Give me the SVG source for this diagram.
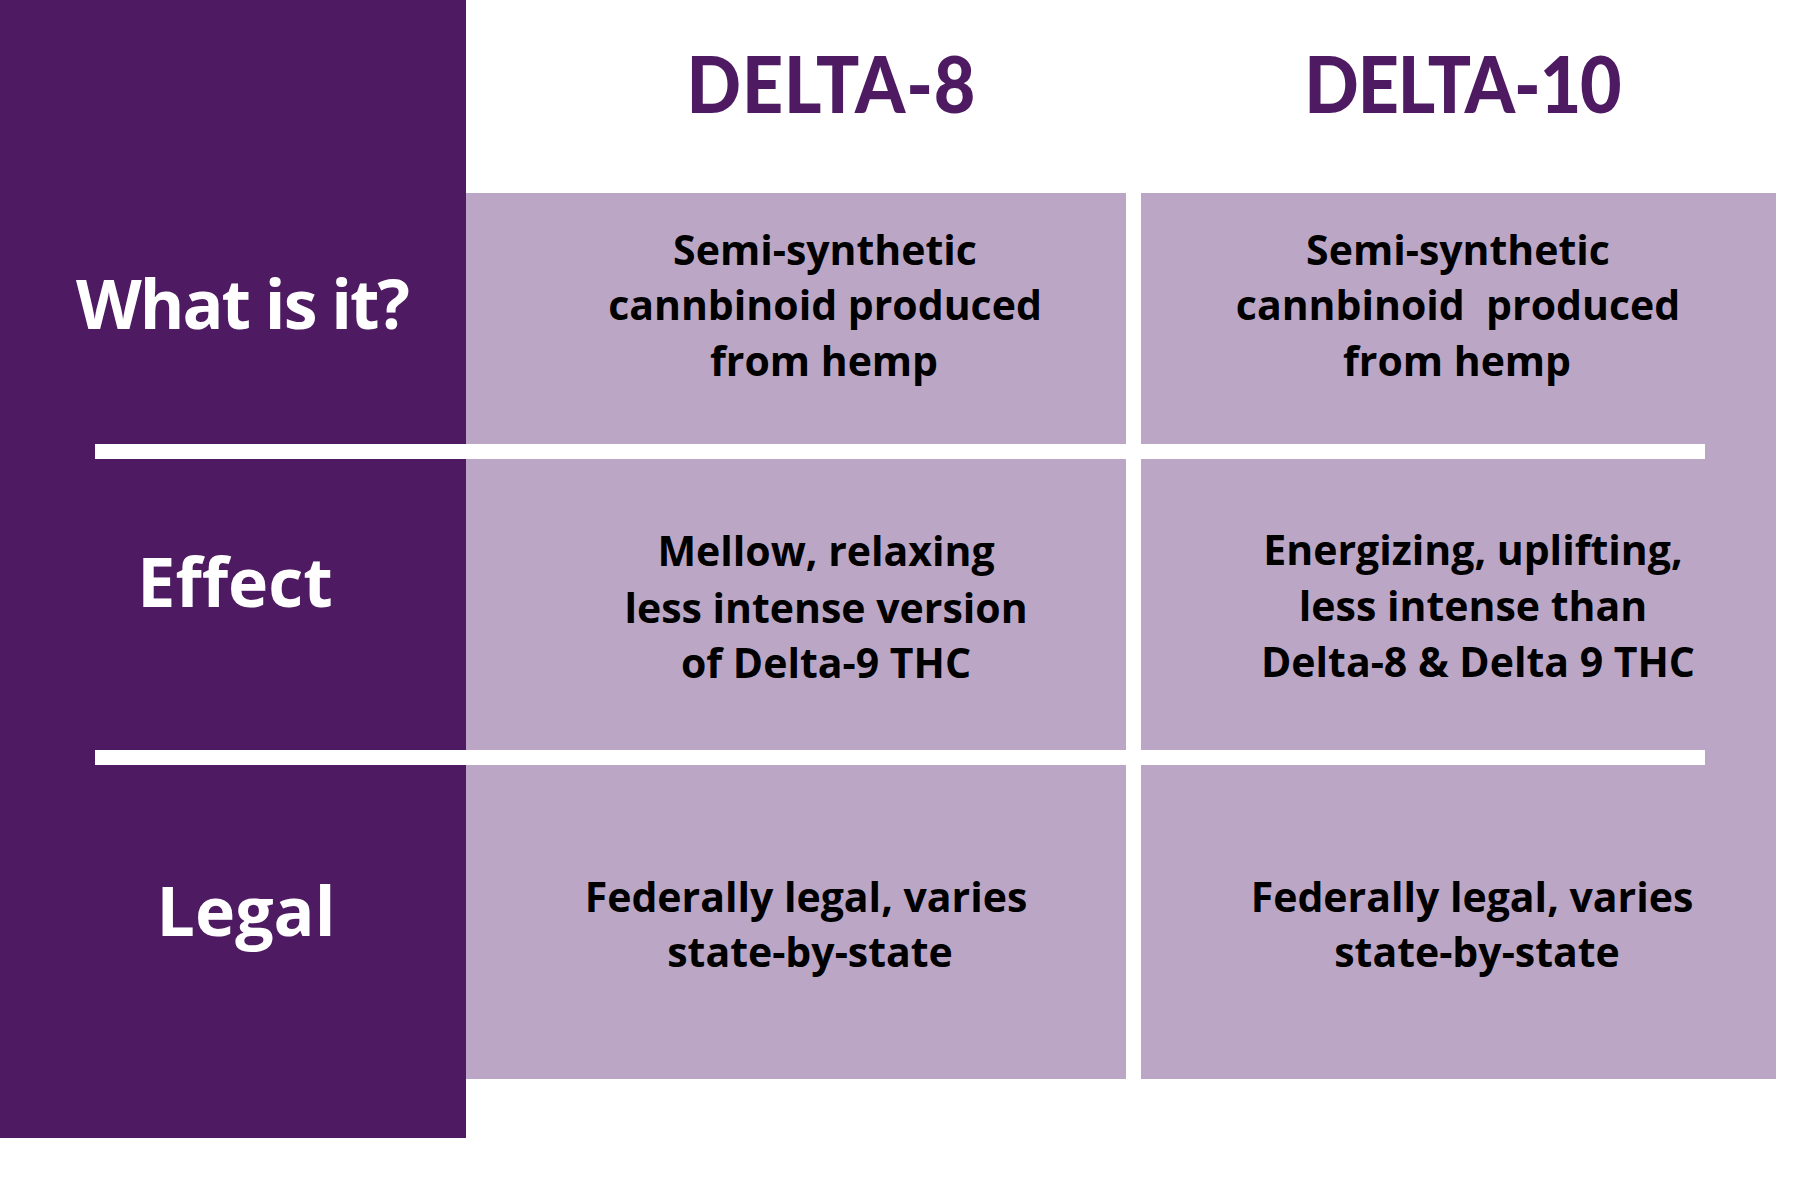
<svg xmlns="http://www.w3.org/2000/svg" width="1800" height="1200" viewBox="0 0 1800 1200">
<style>
.bg{fill:#ffffff}
.side{fill:#4e1a61}
.cell{fill:#bba7c5}
.rule{fill:#ffffff}
.head{font-family:"Lato","Inter","DejaVu Sans",sans-serif;font-weight:900;font-size:78px;fill:#4e1a61;text-anchor:middle}
.label{font-family:"Open Sans","Noto Sans","DejaVu Sans",sans-serif;font-weight:700;font-size:68px;fill:#ffffff;text-anchor:middle}
.txt{font-family:"Open Sans","Noto Sans","DejaVu Sans",sans-serif;font-weight:700;font-size:41px;fill:#000000;text-anchor:middle}
</style>
<rect class="bg" x="0" y="0" width="1800" height="1200"/>
<g id="sidebar">
<rect class="side" x="0" y="0" width="466" height="1138"/>
</g>
<g id="cells-bg">
<rect class="cell" x="466" y="193" width="660" height="886"/>
<rect class="cell" x="1141" y="193" width="635" height="886"/>
</g>
<g id="rules">
<rect class="rule" x="95" y="444" width="1610" height="15"/>
<rect class="rule" x="95" y="750" width="1610" height="15"/>
</g>
<g id="header-delta8" transform="translate(831,113) scale(0.92,1)"><text class="head" x="0" y="0" textLength="314">DELTA-8</text></g>
<g id="header-delta10" transform="translate(1463,113) scale(0.92,1)"><text class="head" x="0" y="0" textLength="345">DELTA-10</text></g>
<g id="row-what"><text class="label" x="243" y="329" textLength="334">What is it?</text></g>
<g id="row-effect"><text class="label" x="235" y="607">Effect</text></g>
<g id="row-legal"><text class="label" x="246" y="936">Legal</text></g>
<g id="d8-what">
<text class="txt" x="825" y="265">Semi-synthetic</text>
<text class="txt" x="825" y="320">cannbinoid produced</text>
<text class="txt" x="824" y="376">from hemp</text>
</g>
<g id="d10-what">
<text class="txt" x="1458" y="265">Semi-synthetic</text>
<text class="txt" x="1458" y="320" xml:space="preserve">cannbinoid  produced</text>
<text class="txt" x="1457" y="376">from hemp</text>
</g>
<g id="d8-effect">
<text class="txt" x="826" y="566">Mellow, relaxing</text>
<text class="txt" x="826" y="623">less intense version</text>
<text class="txt" x="826" y="678">of Delta-9 THC</text>
</g>
<g id="d10-effect">
<text class="txt" x="1473" y="565">Energizing, uplifting,</text>
<text class="txt" x="1473" y="621">less intense than</text>
<text class="txt" x="1478" y="677">Delta-8 &amp; Delta 9 THC</text>
</g>
<g id="d8-legal">
<text class="txt" x="806" y="912">Federally legal, varies</text>
<text class="txt" x="810" y="967">state-by-state</text>
</g>
<g id="d10-legal">
<text class="txt" x="1472" y="912">Federally legal, varies</text>
<text class="txt" x="1477" y="967">state-by-state</text>
</g>
</svg>
